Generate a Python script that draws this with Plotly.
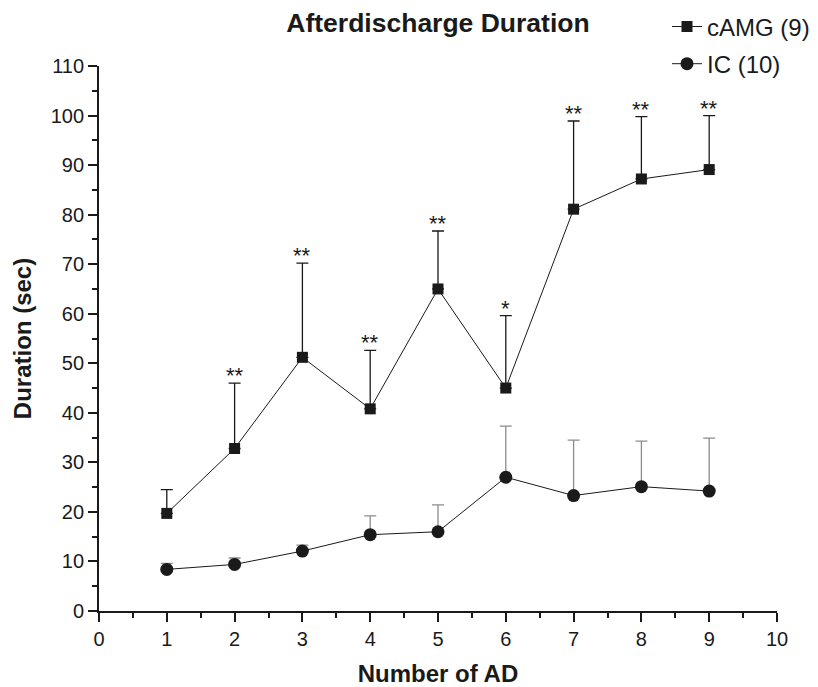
import plotly.graph_objects as go

ad_number = [1, 2, 3, 4, 5, 6, 7, 8, 9]
camg_mean = [19.7, 32.8, 51.2, 40.8, 65.0, 45.0, 81.1, 87.2, 89.1]
camg_err = [4.8, 13.2, 19.0, 11.8, 11.7, 14.6, 17.8, 12.6, 10.9]
ic_mean = [8.4, 9.4, 12.1, 15.4, 16.0, 27.0, 23.3, 25.1, 24.2]
ic_err = [1.2, 1.3, 1.2, 3.8, 5.4, 10.3, 11.2, 9.2, 10.7]
signif = ["", "**", "**", "**", "**", "*", "**", "**", "**"]

FONT = "Liberation Sans, Arial, Helvetica, sans-serif"
INK = "#1a1a1a"

fig = go.Figure()
fig.add_trace(go.Scatter(
    x=ad_number, y=ic_mean, name="IC (10)", mode="lines+markers",
    line=dict(color=INK, width=1),
    marker=dict(symbol="circle", size=13, color=INK),
    error_y=dict(type="data", symmetric=False, array=ic_err,
                 arrayminus=[0] * len(ic_err), color="#8c8c8c",
                 thickness=1.3, width=6),
    legendgroup="b", legendrank=2,
))
fig.add_trace(go.Scatter(
    x=ad_number, y=camg_mean, name="cAMG (9)", mode="lines+markers",
    line=dict(color=INK, width=1),
    marker=dict(symbol="square", size=11, color=INK),
    error_y=dict(type="data", symmetric=False, array=camg_err,
                 arrayminus=[0] * len(camg_err), color=INK,
                 thickness=1.3, width=6),
    legendgroup="a", legendrank=1,
))

for x, m, e, s in zip(ad_number, camg_mean, camg_err, signif):
    if s:
        fig.add_annotation(x=x, y=m + e, text=s, showarrow=False,
                           yanchor="bottom", yshift=-7,
                           font=dict(family=FONT, size=22, color=INK))

axis_common = dict(
    showline=True, linecolor=INK, linewidth=1.8,
    ticks="outside", ticklen=9, tickwidth=1.5, tickcolor=INK,
    showgrid=False, zeroline=False, automargin=False,
    tickfont=dict(family=FONT, size=20, color=INK),
)

fig.update_layout(
    width=818, height=687,
    paper_bgcolor="white", plot_bgcolor="white",
    margin=dict(l=99, r=41, t=66, b=76, autoexpand=False),
    title=dict(text="<b>Afterdischarge Duration</b>", x=438 / 818,
               xref="container", xanchor="center",
               y=1 - 23 / 687, yref="container", yanchor="middle",
               font=dict(family=FONT, size=26.5, color=INK)),
    xaxis=dict(range=[0, 10], dtick=1, tick0=0,
               minor=dict(dtick=0.5, ticklen=5, tickwidth=1.5,
                          tickcolor=INK, ticks="outside"),
               title=dict(text="<b>Number of AD</b>", standoff=16,
                          font=dict(family=FONT, size=24, color=INK)),
               **axis_common),
    yaxis=dict(range=[0, 110], dtick=10, tick0=0,
               minor=dict(dtick=5, ticklen=5, tickwidth=1.5,
                          tickcolor=INK, ticks="outside"),
               title=dict(text="<b>Duration (sec)</b>", standoff=12,
                          font=dict(family=FONT, size=24, color=INK)),
               **axis_common),
    legend=dict(x=667 / 818, y=0.9936, xref="container", yref="container",
                xanchor="left", yanchor="top",
                traceorder="grouped", tracegroupgap=3,
                bgcolor="rgba(0,0,0,0)",
                font=dict(family=FONT, size=24, color=INK)),
    showlegend=True,
)

fig.write_html("out.html")
